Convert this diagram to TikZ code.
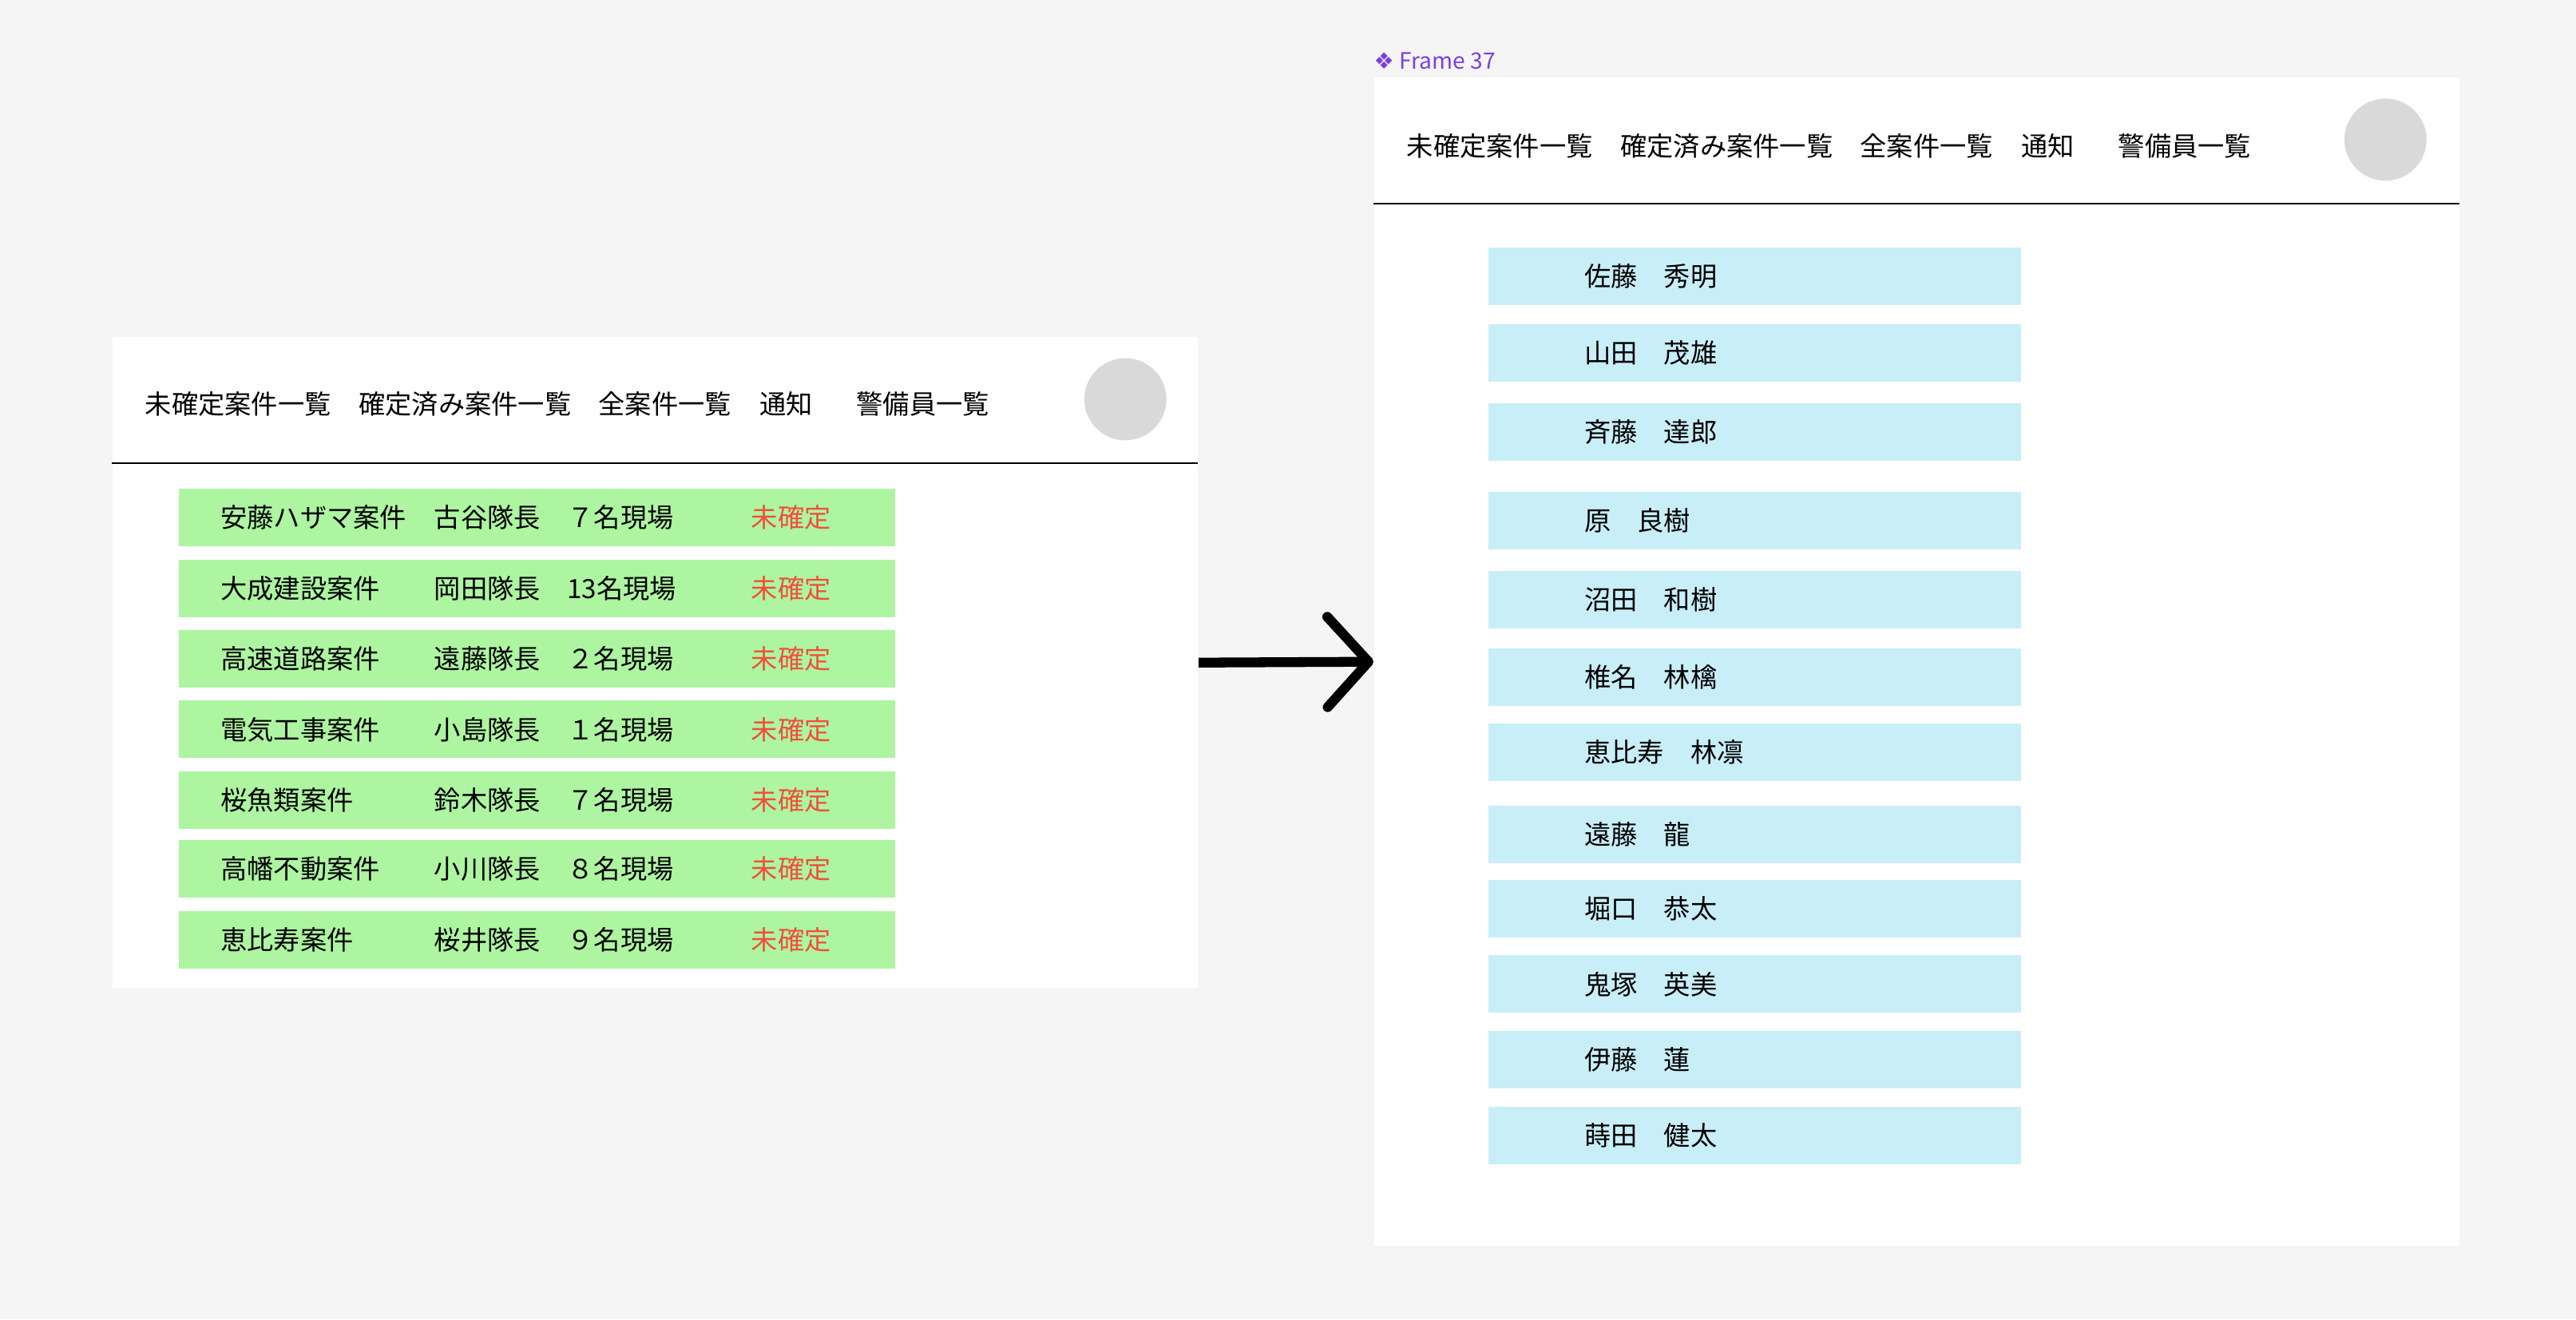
\documentclass[tikz,border=0pt]{standalone}
\usepackage{fontspec}
\setmainfont{Noto Sans CJK JP}
\newfontfamily\symfont{DejaVu Sans}
\usetikzlibrary{arrows.meta,positioning}
\definecolor{bggray}{HTML}{F5F5F5}
\definecolor{rowgreen}{HTML}{ADF5A0}
\definecolor{rowblue}{HTML}{C8EEF8}
\definecolor{avatar}{HTML}{D9D9D9}
\definecolor{alert}{HTML}{F24E3C}
\definecolor{framelabel}{HTML}{7B3FE4}
\tikzset{
  px/.style={x=0.02cm,y=-0.02cm},
  screen/.style={fill=white,draw=none,inner sep=0pt,anchor=north west},
  navitem/.style={anchor=west,font=\fontsize{9.2}{11}\selectfont,inner sep=0pt},
  cell/.style={anchor=west,font=\fontsize{9.2}{11}\selectfont,inner sep=0pt},
  greenrow/.style={fill=rowgreen,minimum width=8.72cm,minimum height=0.7cm,inner sep=0pt},
  bluerow/.style={fill=rowblue,minimum width=6.48cm,minimum height=0.7cm,inner sep=0pt},
  avatarball/.style={circle,fill=avatar,minimum size=1cm,inner sep=0pt},
}
\begin{document}
\begin{tikzpicture}[px]
    % Canvas
    \fill[bggray] (0,0) rectangle (1568,803);
    \useasboundingbox (0,0) rectangle (1568,803);

    % Left screen
    \node[screen,minimum width=13.22cm,minimum height=7.92cm] (left) at (68,205) {};
    \foreach \t/\x in {未確定案件一覧/88,確定済み案件一覧/218,全案件一覧/364,通知/462,警備員一覧/521}
        \node[navitem] at (\x,246) {\t};
    \node[avatarball] (lavatar) at (685,243) {};
    \draw[line width=0.6pt] (68,282) -- (729,282);

    % Pending jobs
    \foreach \y/\a/\b/\c in {315/安藤ハザマ案件/古谷隊長/７名現場,358/大成建設案件/岡田隊長/13名現場,
        401/高速道路案件/遠藤隊長/２名現場,444/電気工事案件/小島隊長/１名現場,
        487/桜魚類案件/鈴木隊長/７名現場,529/高幡不動案件/小川隊長/８名現場,
        572/恵比寿案件/桜井隊長/９名現場}
    {
        \node[greenrow] at (327,\y) {};
        \node[cell] at (134,\y) {\a};
        \node[cell] at (264,\y) {\b};
        \node[cell] at (345,\y) {\c};
        \node[cell,text=alert] at (457,\y) {未確定};
    }

    % Right screen
    \node[anchor=west,inner sep=0pt,text=framelabel,font=\fontsize{7.8}{9}\selectfont] (flabel) at (836,37) {{\symfont ❖} Frame 37};
    \node[screen,minimum width=13.22cm,minimum height=14.22cm] (right) at (836,47) {};
    \foreach \t/\x in {未確定案件一覧/856,確定済み案件一覧/986,全案件一覧/1132,通知/1230,警備員一覧/1289}
        \node[navitem] at (\x,89) {\t};
    \node[avatarball] (ravatar) at (1452,85) {};
    \draw[line width=0.6pt] (836,124) -- (1497,124);

    % Guards
    \foreach \y/\n in {168/佐藤　秀明,215/山田　茂雄,263/斉藤　達郎,317/原　良樹,
        365/沼田　和樹,412/椎名　林檎,458/恵比寿　林凛,508/遠藤　龍,
        553/堀口　恭太,599/鬼塚　英美,645/伊藤　蓮,691/蒔田　健太}
    {
        \node[bluerow] at (1068,\y) {};
        \node[cell] at (964,\y) {\n};
    }

    % Transition
    \draw[line width=3.4pt,-{Straight Barb[length=5mm,width=11mm,round]}] (left.east) -- (right.west);
\end{tikzpicture}
\end{document}
